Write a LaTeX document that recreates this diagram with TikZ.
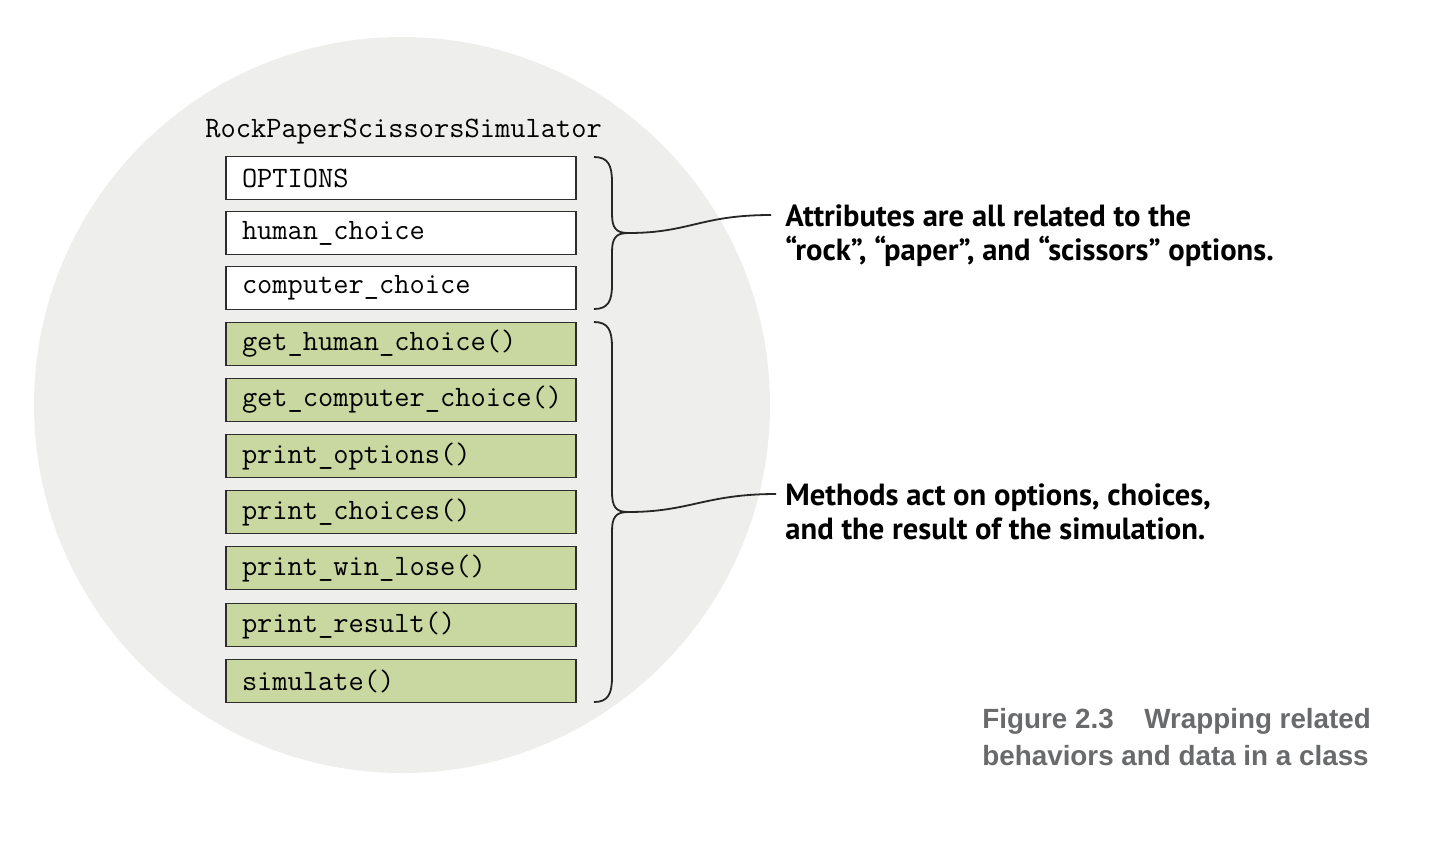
\documentclass[tikz,border=0pt]{standalone}
\usepackage{fontspec}
\setmainfont{Liberation Serif}
\newfontfamily\notefont{PT Sans}
\newfontfamily\capfont{Liberation Sans}
\definecolor{circlegray}{RGB}{238,238,237}
\definecolor{methgreen}{RGB}{200,216,160}
\definecolor{boxline}{RGB}{45,45,45}
\definecolor{capgray}{RGB}{105,106,108}
\newcommand{\codesize}{\ttfamily\fontsize{14.8}{16}\selectfont}
\begin{document}
\begin{tikzpicture}[x=0.5pt,y=-0.5pt,
  attrbox/.style={draw=boxline,line width=0.75pt,fill=white,rectangle,
    minimum height=21.5pt,inner xsep=8pt,inner ysep=0pt,text width=159pt,align=left,
    font=\codesize},
  methbox/.style={attrbox,fill=methgreen},
  bracepath/.style={draw=black!85,line width=0.9pt},
  leader/.style={draw=black!85,line width=0.9pt},
  note/.style={anchor=base west,inner sep=0pt,align=left,
    font=\notefont\bfseries\fontsize{15.3}{17}\selectfont},
  caption/.style={anchor=base west,inner sep=0pt,align=left,text=capgray,
    font=\capfont\bfseries\fontsize{13.9}{18.5}\selectfont}]
\useasboundingbox (0,0) rectangle (1438,848);
\fill[circlegray] (402,405) circle[radius=368];
\node[anchor=base west,inner sep=0pt,font=\codesize] (title) at (205,137) {RockPaperScissorsSimulator};
\node[attrbox] (b1) at (401,178) {OPTIONS};
\node[attrbox] (b2) at (401,233) {human\_choice};
\node[attrbox] (b3) at (401,288) {computer\_choice};
\node[methbox] (m1) at (401,344) {get\_human\_choice()};
\node[methbox] (m2) at (401,400) {get\_computer\_choice()};
\node[methbox] (m3) at (401,456) {print\_options()};
\node[methbox] (m4) at (401,512) {print\_choices()};
\node[methbox] (m5) at (401,568) {print\_win\_lose()};
\node[methbox] (m6) at (401,625) {print\_result()};
\node[methbox] (m7) at (401,681) {simulate()};
% braces
\coordinate (t1) at (628,233);
\coordinate (t2) at (628,512);
\path[bracepath] (594,157) .. controls (608,157) and (612,165) .. (612,182) -- (612,214)
  .. controls (612,228) and (616,233) .. (t1)
  .. controls (616,233) and (612,238) .. (612,252) -- (612,285)
  .. controls (612,301) and (608,309) .. (594,309);
\path[bracepath] (594,322) .. controls (608,322) and (612,330) .. (612,347) -- (612,492)
  .. controls (612,507) and (616,512) .. (t2)
  .. controls (616,512) and (612,517) .. (612,531) -- (612,677)
  .. controls (612,694) and (608,702) .. (594,702);
% notes
\coordinate (e1) at (771,215);
\coordinate (e2) at (776,494);
\path[leader] (t1) .. controls (690,233) and (700,215) .. (e1);
\path[leader] (t2) .. controls (690,512) and (705,494) .. (e2);
\node[note] (attr) at (785,260) {Attributes are all related to the\\“rock”, “paper”, and “scissors” options.};
\node[note] (meth) at (785,539) {Methods act on options, choices,\\and the result of the simulation.};
\node[caption] (cap) at (982,765) {Figure 2.3\hspace{1.1em}Wrapping related\\behaviors and data in a class};
\end{tikzpicture}
\end{document}
